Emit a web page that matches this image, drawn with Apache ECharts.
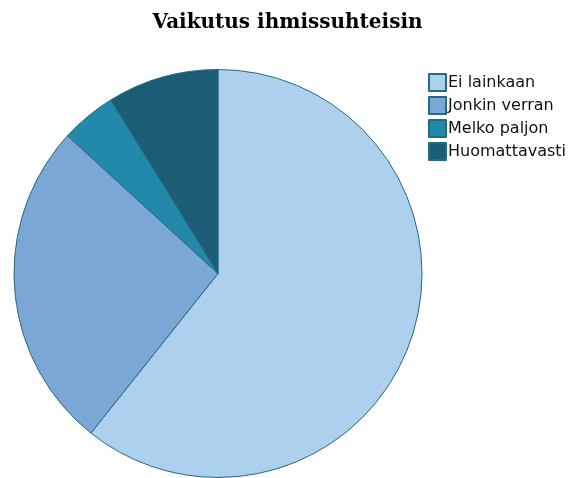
<!DOCTYPE html>
<html>
<head>
<meta charset="utf-8">
<script src="https://cdn.jsdelivr.net/npm/echarts@6/dist/echarts.min.js"></script>
<style>html,body{margin:0;padding:0;background:#fff;}#c{width:575px;height:478px;}</style>
</head>
<body>
<div id="c"></div>
<script>
const categories = ['Ei lainkaan', 'Jonkin verran', 'Melko paljon', 'Huomattavasti'];
const values = [60.7, 26.1, 4.4, 8.8];
const colors = ['#acd0ee', '#7ba7d6', '#2389aa', '#1b5d74'];

const chart = echarts.init(document.getElementById('c'), null, {renderer: 'canvas'});
chart.setOption({
  animation: false,
  backgroundColor: '#ffffff',
  title: {
    text: 'Vaikutus ihmissuhteisin',
    left: 'center',
    top: 8,
    textStyle: {fontFamily: 'DejaVu Serif', fontWeight: 'bold', fontSize: 20, color: '#000'}
  },
  legend: {
    orient: 'vertical',
    left: 428,
    top: 73,
    padding: 0,
    itemWidth: 17,
    itemHeight: 17,
    itemGap: 4,
    icon: 'rect',
    textStyle: {fontFamily: 'DejaVu Sans', fontSize: 16, lineHeight: 17, color: '#111', padding: [0, 0, 0, -3]},
    data: categories
  },
  series: [{
    type: 'pie',
    center: [218, 273.5],
    radius: 204,
    startAngle: 90,
    clockwise: true,
    label: {show: false},
    labelLine: {show: false},
    emphasis: {disabled: true},
    itemStyle: {borderColor: '#246a80', borderWidth: 1},
    data: categories.map((n, i) => ({name: n, value: values[i], itemStyle: {color: colors[i]}}))
  }]
});
</script>
</body>
</html>
